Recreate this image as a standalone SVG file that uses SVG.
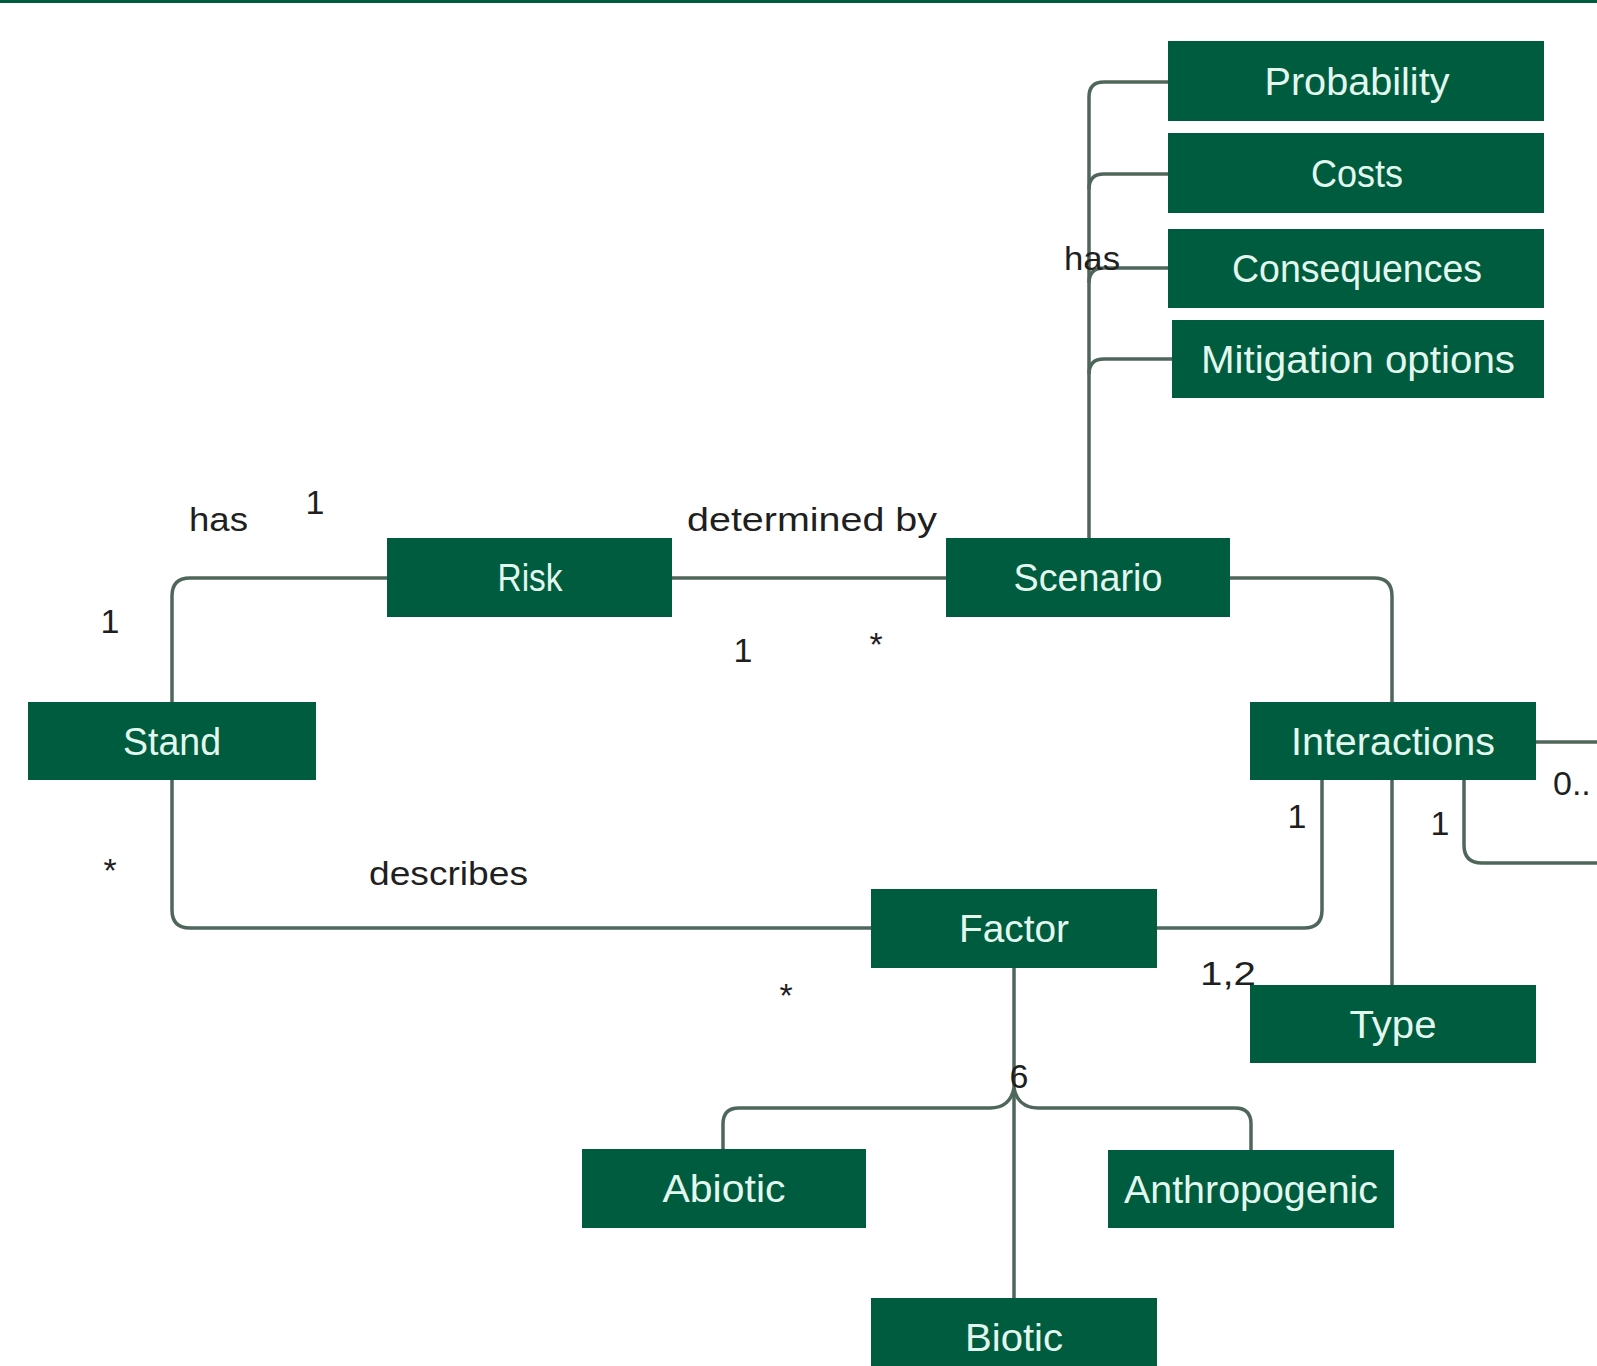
<svg xmlns="http://www.w3.org/2000/svg" width="1597" height="1366" viewBox="0 0 1597 1366">
  <style>
    .box { fill: #005c3e; }
    .nl { font-family: "Liberation Sans", Arial, sans-serif; font-size: 38px; fill: #e2f8ef; text-anchor: middle; }
    .el { font-family: "Liberation Sans", Arial, sans-serif; font-size: 34px; fill: #1f1f1f; }
    .mid { text-anchor: middle; }
    .wire { fill: none; stroke: #4f665b; stroke-width: 3.5; }
  </style>
  <rect x="0" y="0" width="1597" height="1366" fill="#ffffff"/>
  <rect x="0" y="0" width="1597" height="3" fill="#005c3e"/>

  <!-- connectors -->
  <g id="connectors" class="wire">
    <path d="M1089,538 V97 Q1089,82 1104,82 H1168"/>
    <path d="M1089,189 Q1089,174 1104,174 H1168"/>
    <path d="M1089,283 Q1089,268 1104,268 H1168"/>
    <path d="M1089,374 Q1089,359 1104,359 H1172"/>
    <path d="M172,702 V596 Q172,578 190,578 H387"/>
    <path d="M672,578 H946"/>
    <path d="M1230,578 H1374 Q1392,578 1392,596 V702"/>
    <path d="M172,780 V910 Q172,928 190,928 H871"/>
    <path d="M1157,928 H1304 Q1322,928 1322,910 V780"/>
    <path d="M1392,780 V985"/>
    <path d="M1536,742 H1605"/>
    <path d="M1464,780 V845 Q1464,863 1482,863 H1605"/>
    <path d="M1014,968 V1298"/>
    <path d="M1014,1088 Q1010,1108 990,1108 H739 Q723,1108 723,1124 V1149"/>
    <path d="M1014,1088 Q1018,1108 1038,1108 H1235 Q1251,1108 1251,1124 V1150"/>
  </g>

  <!-- connector labels -->
  <g id="labels">
    <text class="el" x="1064" y="270" textLength="56" lengthAdjust="spacingAndGlyphs">has</text>
    <text class="el" x="189" y="531" textLength="59" lengthAdjust="spacingAndGlyphs">has</text>
    <text class="el mid" x="315" y="514">1</text>
    <text class="el mid" x="110" y="633">1</text>
    <text class="el" x="687" y="531" textLength="250" lengthAdjust="spacingAndGlyphs">determined by</text>
    <text class="el mid" x="743" y="662">1</text>
    <text class="el mid" x="876" y="656" font-size="26">*</text>
    <text class="el mid" x="110" y="882" font-size="26">*</text>
    <text class="el" x="369" y="885" textLength="159" lengthAdjust="spacingAndGlyphs">describes</text>
    <text class="el mid" x="786" y="1007" font-size="26">*</text>
    <text class="el mid" x="1297" y="828">1</text>
    <text class="el mid" x="1440" y="835">1</text>
    <text class="el" x="1553" y="795">0..</text>
    <text class="el" x="1200" y="985" textLength="56" lengthAdjust="spacingAndGlyphs">1,2</text>
    <text class="el mid" x="1019" y="1088">6</text>
  </g>

  <!-- nodes -->
  <g id="probability">
    <rect class="box" x="1168" y="41" width="376" height="80"/>
    <text class="nl" x="1357" y="95" textLength="185" lengthAdjust="spacingAndGlyphs">Probability</text>
  </g>
  <g id="costs">
    <rect class="box" x="1168" y="133" width="376" height="80"/>
    <text class="nl" x="1357" y="187" textLength="92" lengthAdjust="spacingAndGlyphs">Costs</text>
  </g>
  <g id="consequences">
    <rect class="box" x="1168" y="229" width="376" height="79"/>
    <text class="nl" x="1357" y="282" textLength="250" lengthAdjust="spacingAndGlyphs">Consequences</text>
  </g>
  <g id="mitigation-options">
    <rect class="box" x="1172" y="320" width="372" height="78"/>
    <text class="nl" x="1358" y="373" textLength="314" lengthAdjust="spacingAndGlyphs">Mitigation options</text>
  </g>
  <g id="risk">
    <rect class="box" x="387" y="538" width="285" height="79"/>
    <text class="nl" x="530" y="591" textLength="65" lengthAdjust="spacingAndGlyphs">Risk</text>
  </g>
  <g id="scenario">
    <rect class="box" x="946" y="538" width="284" height="79"/>
    <text class="nl" x="1088" y="591" textLength="149" lengthAdjust="spacingAndGlyphs">Scenario</text>
  </g>
  <g id="stand">
    <rect class="box" x="28" y="702" width="288" height="78"/>
    <text class="nl" x="172" y="755" textLength="98" lengthAdjust="spacingAndGlyphs">Stand</text>
  </g>
  <g id="interactions">
    <rect class="box" x="1250" y="702" width="286" height="78"/>
    <text class="nl" x="1393" y="755" textLength="204" lengthAdjust="spacingAndGlyphs">Interactions</text>
  </g>
  <g id="factor">
    <rect class="box" x="871" y="889" width="286" height="79"/>
    <text class="nl" x="1014" y="942" textLength="110" lengthAdjust="spacingAndGlyphs">Factor</text>
  </g>
  <g id="type">
    <rect class="box" x="1250" y="985" width="286" height="78"/>
    <text class="nl" x="1393" y="1038" textLength="87" lengthAdjust="spacingAndGlyphs">Type</text>
  </g>
  <g id="abiotic">
    <rect class="box" x="582" y="1149" width="284" height="79"/>
    <text class="nl" x="724" y="1202" textLength="123" lengthAdjust="spacingAndGlyphs">Abiotic</text>
  </g>
  <g id="anthropogenic">
    <rect class="box" x="1108" y="1150" width="286" height="78"/>
    <text class="nl" x="1251" y="1203" textLength="254" lengthAdjust="spacingAndGlyphs">Anthropogenic</text>
  </g>
  <g id="biotic">
    <rect class="box" x="871" y="1298" width="286" height="80"/>
    <text class="nl" x="1014" y="1351" textLength="98" lengthAdjust="spacingAndGlyphs">Biotic</text>
  </g>
</svg>
